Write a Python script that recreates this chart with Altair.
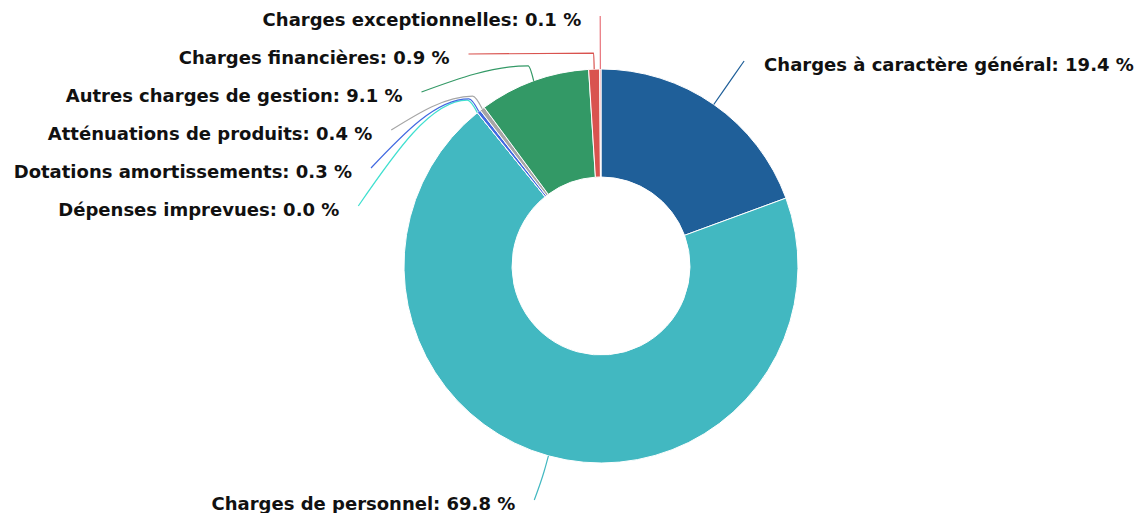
import math
import altair as alt
import pandas as pd

categories = [
    "Charges à caractère général",
    "Charges de personnel",
    "Dépenses imprevues",
    "Dotations amortissements",
    "Atténuations de produits",
    "Autres charges de gestion",
    "Charges financières",
    "Charges exceptionnelles",
]
values = [19.4, 69.8, 0.0, 0.3, 0.4, 9.1, 0.9, 0.1]
colors = ["#1f5f99", "#42b8c1", "#40e0d0", "#4169e1", "#a6a6a6", "#339966", "#d9534f", "#e8727a"]

# layout constants (pixels in plot space)
W, H = 1132, 497
CX, CY = 593, 258
R_OUT, R_IN = 197, 89
R_BEND, R_LABEL = 213, 250
GAP = 38
TOP, BOTTOM = 8, H - 5

total = sum(values)
mids = []
acc = 0.0
for v in values:
    mids.append((acc + v / 2.0) / total * 2 * math.pi)
    acc += v


def pt(a, r):
    return CX + r * math.sin(a), CY - r * math.cos(a)


# label distribution (Highcharts-like: push down overlapping labels per side)
anchors = {}
for side in ("left", "right"):
    idx = [i for i, a in enumerate(mids) if (math.sin(a) > 0) == (side == "right")]
    idx.sort(key=lambda i: pt(mids[i], R_LABEL)[1])
    prev = None
    for i in idx:
        nx, ny = pt(mids[i], R_LABEL)
        y = max(ny, TOP) if prev is None else max(ny, prev + GAP)
        y = min(y, BOTTOM)
        if abs(y - ny) > 10:
            dy = y - CY
            w = math.sqrt(max(R_LABEL ** 2 - dy ** 2, 0))
            x = CX + (w if side == "right" else -w)
        else:
            x = nx
        anchors[i] = (x, y, side)
        prev = y

arc_df = pd.DataFrame({"cat": categories, "value": values, "idx": list(range(len(values)))})

line_rows = []
text_rows = []
for i, cat in enumerate(categories):
    ex, ey = pt(mids[i], R_OUT)
    bx, by = pt(mids[i], R_BEND)
    ax_, ay_, side = anchors[i]
    for k, (x, y) in enumerate([(ex, ey), (bx, by), (ax_, ay_)]):
        line_rows.append({"cat": cat, "k": k, "x": x, "y": y})
    text_rows.append({"cat": cat, "x": ax_, "y": ay_, "side": side,
                      "label": f"{cat}: {values[i]:.1f} %"})
line_df = pd.DataFrame(line_rows)
text_df = pd.DataFrame(text_rows)

color = alt.Color("cat:N", scale=alt.Scale(domain=categories, range=colors), legend=None)
xs = alt.Scale(domain=[0, W], range=[0, W])
ys = alt.Scale(domain=[0, H], range=[0, H])

arcs = alt.Chart(arc_df).mark_arc(radius=R_OUT, radius2=R_IN, stroke="white", strokeWidth=1).encode(
    theta=alt.Theta("value:Q", stack=True),
    color=color,
    order=alt.Order("idx:Q"),
    x=alt.value(CX),
    y=alt.value(CY),
)

lines = alt.Chart(line_df).mark_line(strokeWidth=1.2, interpolate="monotone").encode(
    x=alt.X("x:Q", scale=xs, axis=None),
    y=alt.Y("y:Q", scale=ys, axis=None),
    detail="cat:N",
    order="k:Q",
    color=color,
)

text_style = dict(font="DejaVu Sans", fontWeight="bold", fontSize=18, color="#111111",
                  baseline="middle", dy=5)
left_text = alt.Chart(text_df).transform_filter(alt.datum.side == "left").mark_text(
    align="right", dx=-19, **text_style
).encode(x=alt.X("x:Q", scale=xs, axis=None), y=alt.Y("y:Q", scale=ys, axis=None), text="label:N")
right_text = alt.Chart(text_df).transform_filter(alt.datum.side == "right").mark_text(
    align="left", dx=20, **text_style
).encode(x=alt.X("x:Q", scale=xs, axis=None), y=alt.Y("y:Q", scale=ys, axis=None), text="label:N")

chart = alt.layer(arcs, lines, left_text, right_text).properties(
    width=W, height=H, padding=0
).configure_view(stroke=None)

chart.save("out.html", embed_options={"renderer": "svg", "actions": False})
